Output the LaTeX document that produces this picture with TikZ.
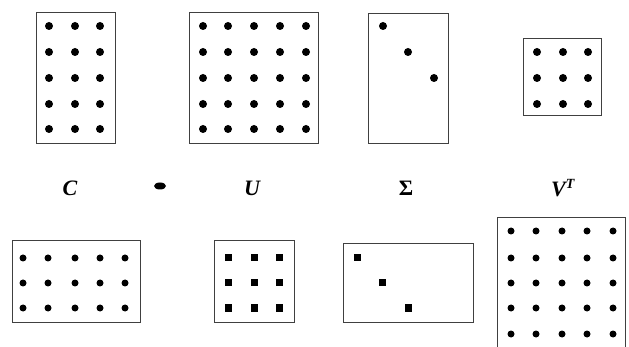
\documentclass[tikz,border=0pt]{standalone}
\usepackage{fontspec}
\setmainfont{Liberation Serif}
\usetikzlibrary{shapes.geometric}
\begin{document}
\begin{tikzpicture}[x=1pt,y=-1pt,
  mat/.style={draw=black!75,line width=0.9pt,inner sep=0pt},
  dotc/.style={circle,fill=black,inner sep=0pt,minimum size=8pt},
  dotsq/.style={rectangle,fill=black,inner sep=0pt,minimum size=7pt},
  lbl/.style={font=\fontsize{22}{24}\selectfont\bfseries\itshape,inner sep=0pt}]
\useasboundingbox (0,0) rectangle (629,347);
% top row boxes
\draw[mat] (36,12) rectangle (115,143);
\draw[mat] (189,12) rectangle (318,143);
\draw[mat] (368,13) rectangle (448,143);
\draw[mat] (523,38) rectangle (601,115);
% top C dots
\foreach \x [count=\i] in {49,75,100}
  \foreach \y [count=\j] in {26,52,78,104,129}
    \node[dotc] (tc-\i-\j) at (\x,\y) {};
% top U dots
\foreach \x [count=\i] in {203,228,254,280,306}
  \foreach \y [count=\j] in {26,52,78,104,129}
    \node[dotc] (tu-\i-\j) at (\x,\y) {};
% top Sigma dots
\node[dotc] (ts-1) at (383,26) {};
\node[dotc] (ts-2) at (408,52) {};
\node[dotc] (ts-3) at (434,78) {};
% top V^T dots
\foreach \x [count=\i] in {537,563,588}
  \foreach \y [count=\j] in {52,78,104}
    \node[dotc] (tv-\i-\j) at (\x,\y) {};
% labels
\node[lbl] (lc) at (70,188) {C};
\node[ellipse,fill=black,inner sep=0pt,minimum width=12pt,minimum height=7pt] (eq) at (160,186) {};
\node[lbl] (lu) at (252,188) {U};
\node[font=\fontsize{22}{24}\selectfont\bfseries,inner sep=0pt] (ls) at (406,188) {Σ};
\node[lbl] (lv) at (563,188) {V\textsuperscript{\fontsize{14}{16}\selectfont T}};
% bottom row boxes
\draw[mat] (12,240) rectangle (140,322);
\draw[mat] (214,240) rectangle (294,322);
\draw[mat] (343,243) rectangle (473,322);
\draw[mat] (497,217) rectangle (625,347);
% bottom C dots
\foreach \x [count=\i] in {23,48,75,100,125}
  \foreach \y [count=\j] in {258,283,308}
    \node[dotc,minimum size=7pt] (bc-\i-\j) at (\x,\y) {};
% bottom U dots
\foreach \x [count=\i] in {228,254,279}
  \foreach \y [count=\j] in {258,283,308}
    \node[dotsq] (bu-\i-\j) at (\x,\y) {};
% bottom Sigma dots
\node[dotsq] (bs-1) at (357,258) {};
\node[dotsq] (bs-2) at (382,283) {};
\node[dotsq] (bs-3) at (408,308) {};
% bottom V^T dots
\foreach \x [count=\i] in {511,536,562,587,613}
  \foreach \y [count=\j] in {231,258,283,308,334}
    \node[dotc,minimum size=7pt] (bv-\i-\j) at (\x,\y) {};
\end{tikzpicture}
\end{document}
